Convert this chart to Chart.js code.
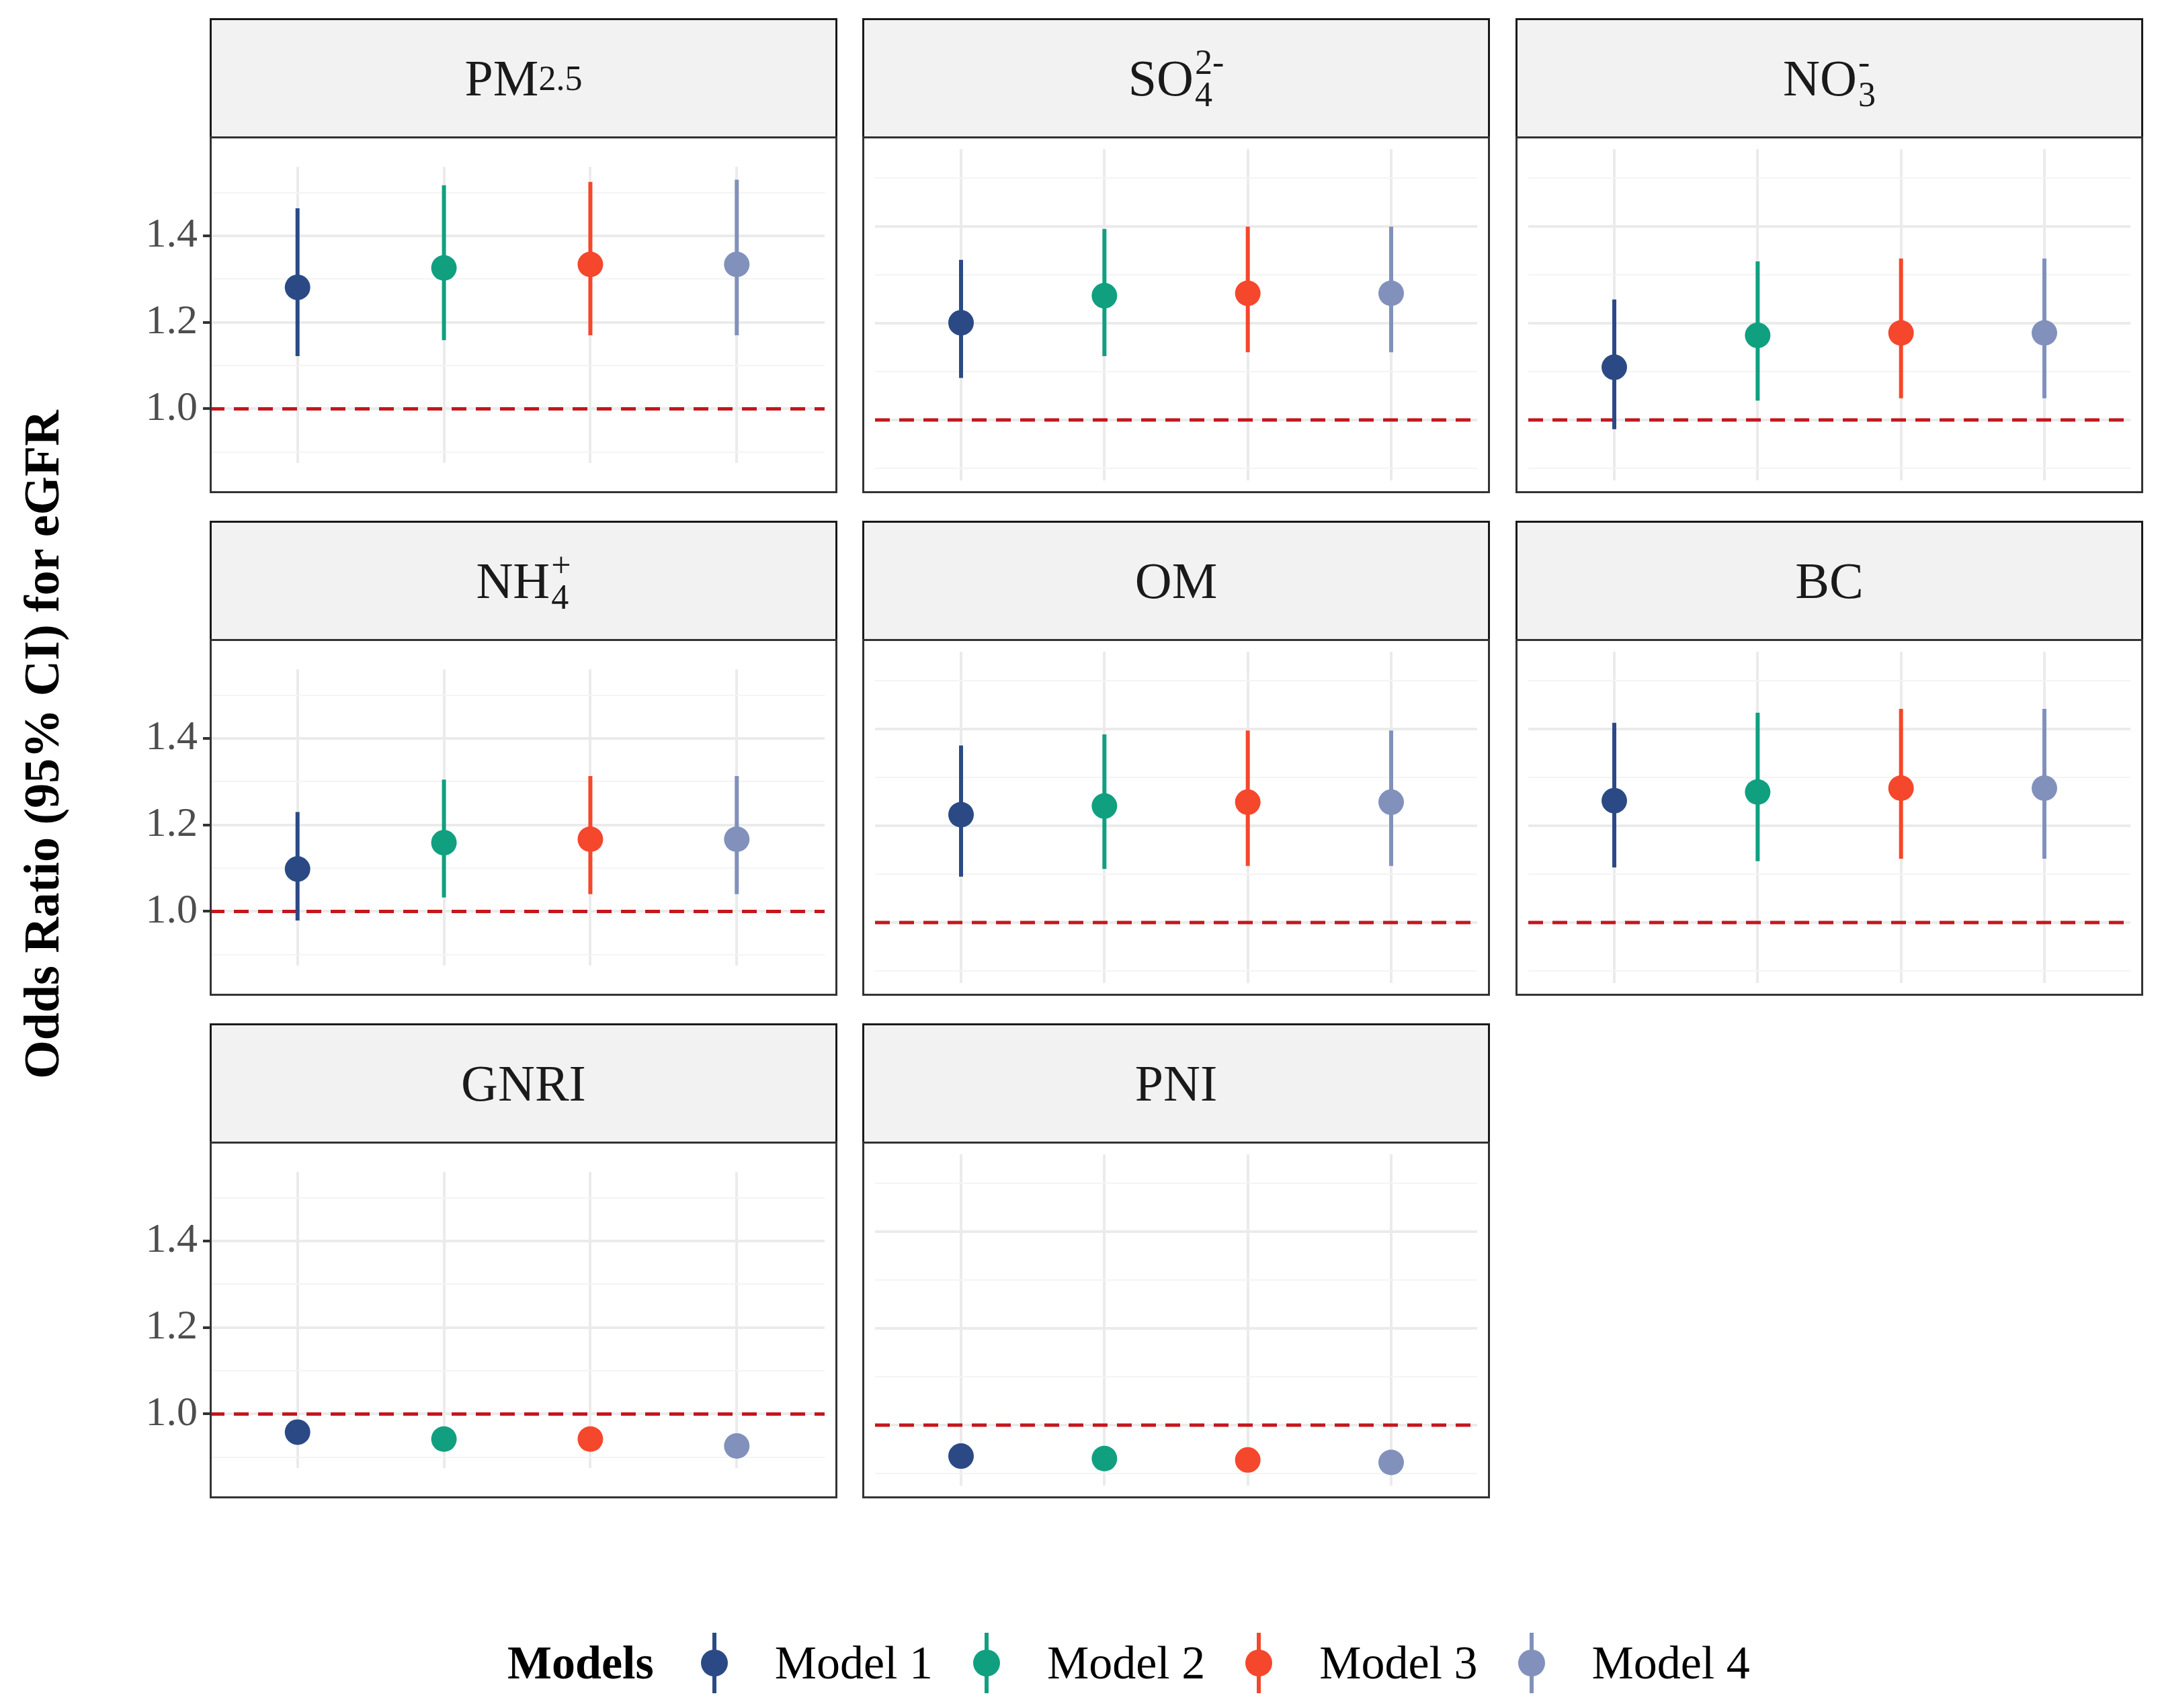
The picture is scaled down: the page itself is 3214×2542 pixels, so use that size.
<!DOCTYPE html>
<html><head><meta charset="utf-8">
<script src="https://cdn.jsdelivr.net/npm/chart.js@4/dist/chart.umd.min.js"></script>
<style>
body{margin:0;background:#fff;width:3214px;height:2542px;position:relative;font-family:"Liberation Serif",serif;overflow:hidden}
.strip{position:absolute;background:#f2f2f2;border:3px solid #1a1a1a;box-sizing:border-box;display:flex;align-items:center;justify-content:center;font-size:76px;color:#1a1a1a}
.frame{position:absolute;border:3px solid #333;box-sizing:border-box;pointer-events:none}
.cv{position:absolute}
.ss{display:inline-flex;flex-direction:column;font-size:52px;line-height:48px;vertical-align:-14px;margin-left:2px}
.sb{font-size:52px;vertical-align:-18px}
#ytitle{position:absolute;left:0;top:1108px;width:0;height:0}
#ytitle div{position:absolute;transform:translate(-50%,-50%) rotate(-90deg);left:62px;white-space:nowrap;font-weight:bold;font-size:74px}
#legend{position:absolute;top:2430px;left:755px;display:flex;align-items:center;font-size:70px}
.lk{display:inline-block;position:relative;width:60px;height:90px;margin:0 60px 0 50px}
.lk i{position:absolute;left:27px;top:0;width:6px;height:90px}
.lk b{position:absolute;left:10px;top:25px;width:40px;height:40px;border-radius:50%}
</style></head><body>
<div id="ytitle"><div>Odds Ratio (95% CI) for eGFR</div></div>
<div id="legend"><span style="font-weight:bold;margin-right:10px">Models</span></div>
<script>
const models = ['Model 1','Model 2','Model 3','Model 4'];
const colors = ['#2b4a85','#10a080','#f4472c','#8191bb'];
const panelNames = ['PM<span class="sb">2.5</span>','SO<span class="ss"><span>2-</span><span>4</span></span>','NO<span class="ss"><span>-</span><span>3</span></span>',
  'NH<span class="ss"><span>+</span><span>4</span></span>','OM','BC','GNRI','PNI'];
// point estimates, lower and upper CI per panel (Model 1..4)
const est = [
  [1.281,1.326,1.334,1.334],[1.201,1.257,1.262,1.262],[1.109,1.175,1.180,1.180],
  [1.098,1.159,1.167,1.167],[1.223,1.241,1.249,1.249],[1.252,1.270,1.278,1.278],
  [0.958,0.942,0.942,0.926],[0.936,0.931,0.928,0.923]];
const lower = [
  [1.122,1.159,1.170,1.170],[1.087,1.132,1.140,1.140],[0.981,1.040,1.045,1.045],
  [0.979,1.032,1.040,1.040],[1.095,1.111,1.117,1.117],[1.114,1.127,1.132,1.132],
  [0.953,0.937,0.937,0.921],[0.931,0.926,0.923,0.918]];
const upper = [
  [1.464,1.517,1.525,1.530],[1.331,1.395,1.400,1.400],[1.249,1.328,1.334,1.334],
  [1.230,1.305,1.313,1.313],[1.366,1.389,1.397,1.397],[1.413,1.434,1.442,1.442],
  [0.963,0.947,0.947,0.931],[0.941,0.936,0.933,0.928]];
const yTicks = [1.0,1.2,1.4];
const isMajor = v => yTicks.some(t=>Math.abs(t-v)<1e-6);

const colLeft = [312,1283,2255], rowTop = [27,775,1523];
const W = 934, SH = 176, PH = 531, YW = 162;

panelNames.forEach((name,i) => {
  const r = Math.floor(i/3), c = i%3;
  const left = colLeft[c], top = rowTop[r];
  const strip = document.createElement('div');
  strip.className='strip';
  Object.assign(strip.style,{left:left+'px',top:top+'px',width:W+'px',height:(SH+3)+'px'});
  strip.innerHTML = name;
  document.body.appendChild(strip);
  const first = c===0;
  const cv = document.createElement('canvas');
  cv.className='cv';
  const cl = first ? left-YW : left, cw = first ? W+YW : W;
  Object.assign(cv.style,{left:cl+'px',top:(top+SH)+'px',width:cw+'px',height:PH+'px'});
  cv.width = cw; cv.height = PH;
  document.body.appendChild(cv);
  const fr = document.createElement('div');
  fr.className='frame';
  Object.assign(fr.style,{left:left+'px',top:(top+SH)+'px',width:W+'px',height:PH+'px'});
  document.body.appendChild(fr);

  const ds = [{type:'line',data:[{x:0.4,y:1},{x:4.6,y:1}],borderColor:'#c4161c',borderWidth:5,borderDash:[22,14],pointRadius:0,order:3}];
  models.forEach((m,k)=>{
    ds.push({type:'line',data:[{x:k+1,y:lower[i][k]},{x:k+1,y:upper[i][k]}],borderColor:colors[k],borderWidth:6,pointRadius:0,order:2});
  });
  ds.push({type:'scatter',data:models.map((m,k)=>({x:k+1,y:est[i][k]})),backgroundColor:colors,borderWidth:0,pointRadius:19,order:1});

  new Chart(cv,{
    data:{datasets:ds},
    options:{responsive:false,animation:false,devicePixelRatio:1,
      layout:{padding:0},
      plugins:{legend:{display:false},tooltip:{enabled:false}},
      scales:{
        x:{type:'linear',min:0.4,max:4.6,offset:false,
          afterFit:s=>{s.height = 0},
          ticks:{display:false,stepSize:1},border:{display:false},
          grid:{offset:false,color:ctx=>(ctx.tick&&Number.isInteger(ctx.tick.value)&&ctx.tick.value>0)?'#ebebeb':'rgba(0,0,0,0)',lineWidth:4,drawTicks:false}},
        y:{type:'linear',min:0.875,max:1.56,offset:false,
          afterFit:s=>{s.width = first?YW:0},
          border:{display:false},
          ticks:{display:first,stepSize:0.1,includeBounds:false,autoSkip:false,color:'#4d4d4d',padding:8,
            font:{family:'Liberation Serif',size:62},
            callback:v=>isMajor(v)?v.toFixed(1):''},
          grid:{drawTicks:first,tickLength:10,tickColor:ctx=>isMajor(ctx.tick.value)?'#333':'rgba(0,0,0,0)',
            color:ctx=>isMajor(ctx.tick.value)?'#ebebeb':'#f4f4f4',
            lineWidth:ctx=>isMajor(ctx.tick.value)?4:2}}
      }}
  });
});

const lg = document.getElementById('legend');
models.forEach((m,k)=>{
  const s = document.createElement('span');
  s.className='lk';
  s.innerHTML = `<i style="background:${colors[k]}"></i><b style="background:${colors[k]}"></b>`;
  lg.appendChild(s);
  const t = document.createElement('span');
  t.textContent = m;
  lg.appendChild(t);
});
</script>
</body></html>
